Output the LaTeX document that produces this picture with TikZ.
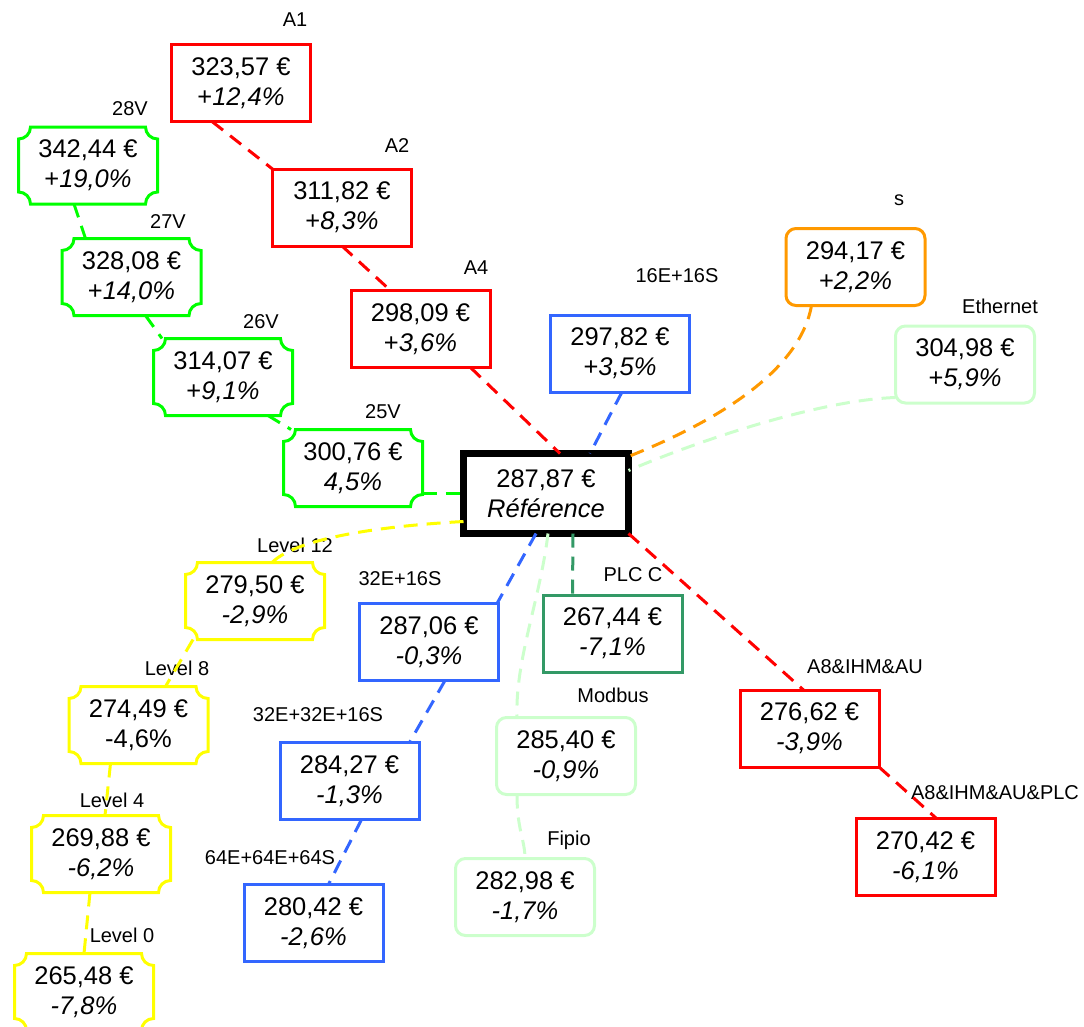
\documentclass[tikz,border=0pt]{standalone}
\usepackage{fontspec}
\setmainfont{Liberation Sans}
\usepackage{xcolor}
\usepackage{tikz}
\usetikzlibrary{calc}

\definecolor{linkblue}{HTML}{3366FF}
\definecolor{plcgreen}{HTML}{339966}
\definecolor{busgreen}{HTML}{CCFFCC}
\definecolor{vgreen}{HTML}{00FF00}
\definecolor{lvlyellow}{HTML}{FFFF00}
\definecolor{sorange}{HTML}{FF9900}

\begin{document}
\begin{tikzpicture}[
    x=1pt, y=1pt,
    price/.style={rectangle, draw=#1, line width=3pt, outer sep=0pt, inner sep=2pt, minimum width=139pt, minimum height=77pt, align=center, font=\fontsize{25.5}{30}\selectfont},
    soft/.style={price=#1, rounded corners=10pt},
    notched/.style={price=#1, draw=none, append after command={\pgfextra{
        \draw[#1, line width=3pt]
          ([xshift=12pt]\tikzlastnode.north west) -- ([xshift=-12pt]\tikzlastnode.north east)
          arc[start angle=180, end angle=270, radius=12pt]
          -- ([yshift=12pt]\tikzlastnode.south east)
          arc[start angle=90, end angle=180, radius=12pt]
          -- ([xshift=12pt]\tikzlastnode.south west)
          arc[start angle=0, end angle=90, radius=12pt]
          -- ([yshift=-12pt]\tikzlastnode.north west)
          arc[start angle=270, end angle=360, radius=12pt]
          -- cycle;}}},
    refbox/.style={rectangle, draw=black, line width=7pt, outer sep=0pt, minimum width=165pt, minimum height=80pt, align=center, font=\fontsize{25.5}{30}\selectfont},
    tag/.style={inner sep=0pt, font=\fontsize{20}{23}\selectfont},
    link/.style={draw=#1, line width=3pt, dash pattern=on 14pt off 9pt}
  ]
    \useasboundingbox (0,0) rectangle (1084,-1026);

    % Reference
    \node[refbox] (ref) at (546,-493.5) {287,87 €\\\textit{Référence}};

    % A options
    \node[price=red] (a1) at (241,-83) {323,57 €\\+\textit{12,4\%}};
    \node[tag] (a1-tag) at (295,-20) {A1};
    \node[price=red] (a2) at (342,-207.5) {311,82 €\\+\textit{8,3\%}};
    \node[tag] (a2-tag) at (397,-146) {A2};
    \node[price=red] (a4) at (420.5,-329) {298,09 €\\+\textit{3,6\%}};
    \node[tag] (a4-tag) at (476,-268) {A4};

    % Voltage
    \node[notched=vgreen] (v28) at (88,-165.5) {342,44 €\\+\textit{19,0\%}};
    \node[tag] (v28-tag) at (130,-109) {28V};
    \node[notched=vgreen] (v27) at (131.5,-277) {328,08 €\\+\textit{14,0\%}};
    \node[tag] (v27-tag) at (168,-222) {27V};
    \node[notched=vgreen] (v26) at (223,-377) {314,07 €\\+\textit{9,1\%}};
    \node[tag] (v26-tag) at (261,-322) {26V};
    \node[notched=vgreen] (v25) at (353,-468) {300,76 €\\\textit{4,5\%}};
    \node[tag] (v25-tag) at (383,-412) {25V};

    % Levels
    \node[notched=lvlyellow] (lvl-12) at (255,-601) {279,50 €\\\textit{-2,9\%}};
    \node[tag] (lvl-12-tag) at (295,-545) {Level 12};
    \node[notched=lvlyellow] (lvl-8) at (138.5,-725) {274,49 €\\-4,6\%};
    \node[tag] (lvl-8-tag) at (177,-668) {Level 8};
    \node[notched=lvlyellow] (lvl-4) at (101,-854) {269,88 €\\\textit{-6,2\%}};
    \node[tag] (lvl-4-tag) at (112,-800) {Level 4};
    \node[notched=lvlyellow] (lvl-0) at (84,-992) {265,48 €\\\textit{-7,8\%}};
    \node[tag] (lvl-0-tag) at (122,-935) {Level 0};

    % I/O
    \node[price=linkblue] (io-16) at (620,-353.5) {297,82 €\\+\textit{3,5\%}};
    \node[tag] (io-16-tag) at (677,-276) {16E+16S};
    \node[price=linkblue] (io-32) at (429,-642) {287,06 €\\\textit{-0,3\%}};
    \node[tag] (io-32-tag) at (400,-579) {32E+16S};
    \node[price=linkblue] (io-48) at (349.5,-781) {284,27 €\\\textit{-1,3\%}};
    \node[tag] (io-48-tag) at (318,-715) {32E+32E+16S};
    \node[price=linkblue] (io-192) at (313.5,-923) {280,42 €\\\textit{-2,6\%}};
    \node[tag] (io-192-tag) at (270,-858) {64E+64E+64S};

    % Communication
    \node[soft=sorange] (s) at (855.5,-267) {294,17 €\\+\textit{2,2\%}};
    \node[tag] (s-tag) at (899,-200) {s};
    \node[soft=busgreen] (eth) at (965,-364.5) {304,98 €\\+\textit{5,9\%}};
    \node[tag] (eth-tag) at (1000,-306) {Ethernet};
    \node[soft=busgreen] (modbus) at (566,-756) {285,40 €\\\textit{-0,9\%}};
    \node[tag] (modbus-tag) at (613,-695) {Modbus};
    \node[soft=busgreen] (fipio) at (525,-897) {282,98 €\\\textit{-1,7\%}};
    \node[tag] (fipio-tag) at (569,-840) {Fipio};

    % PLC and HMI
    \node[price=plcgreen] (plc-c) at (612.5,-633.5) {267,44 €\\\textit{-7,1\%}};
    \node[tag] (plc-c-tag) at (633,-575) {PLC C};
    \node[price=red] (a8) at (809.5,-728.5) {276,62 €\\\textit{-3,9\%}};
    \node[tag] (a8-tag) at (865,-667) {A8\&IHM\&AU};
    \node[price=red] (a8-plc) at (925.5,-857) {270,42 €\\\textit{-6,1\%}};
    \node[tag] (a8-plc-tag) at (995,-793) {A8\&IHM\&AU\&PLC};

    % Links - A chain
    \draw[link=red] ([xshift=-29pt]a1.south) -- (a2.north west);
    \draw[link=red] (a2.south) -- ([xshift=-30pt]a4.north);
    \draw[link=red] ([xshift=50pt]a4.south) -- ([xshift=14pt]ref.north);

    % Links - voltage chain
    \draw[link=vgreen] ([xshift=-14pt]v28.south) -- ([xshift=-46pt]v27.north);
    \draw[link=vgreen] ([xshift=14pt]v27.south) -- ([xshift=-61pt]v26.north);
    \draw[link=vgreen] ([xshift=45pt]v26.south) -- ([xshift=-62pt]v25.north);
    \draw[link=vgreen] (v25.east |- ref.west) -- (ref.west);

    % Links - levels
    \draw[link=lvlyellow] ([yshift=-28pt]ref.west) .. controls (400,-525) and (300,-535) .. ([xshift=17pt]lvl-12.north);
    \draw[link=lvlyellow] ([xshift=-62pt]lvl-12.south) -- ([xshift=27pt]lvl-8.north);
    \draw[link=lvlyellow] ([xshift=-28pt]lvl-8.south) -- ([xshift=4pt]lvl-4.north);
    \draw[link=lvlyellow] ([xshift=-11pt]lvl-4.south) -- (lvl-0.north);

    % Links - I/O
    \draw[link=linkblue] ([xshift=2pt]io-16.south) -- ([xshift=44pt]ref.north);
    \draw[link=linkblue] ([xshift=-10pt]ref.south) -- ([xshift=68pt]io-32.north);
    \draw[link=linkblue] ([xshift=16pt]io-32.south) -- ([xshift=60pt]io-48.north);
    \draw[link=linkblue] ([xshift=12pt]io-48.south) -- ([xshift=15pt]io-192.north);

    % Links - communication
    \draw[link=sorange] ([xshift=-44pt]s.south) .. controls (800,-370) and (720,-420) .. ([yshift=37pt]ref.east);
    \draw[link=busgreen] ([yshift=-33pt]eth.west) .. controls (820,-400) and (700,-440) .. ([yshift=23pt]ref.east);
    \draw[link=busgreen] ([xshift=2pt]ref.south) .. controls (540,-600) and (515,-660) .. ([xshift=-49pt]modbus.north);
    \draw[link=busgreen] ([xshift=-49pt]modbus.south) .. controls (517,-830) and (525,-840) .. (fipio.north);

    % Links - PLC and HMI
    \draw[link=plcgreen] ([xshift=27pt]ref.south) -- ([xshift=-40pt]plc-c.north);
    \draw[link=red] (ref.south east) -- ([xshift=-6pt]a8.north);
    \draw[link=red] (a8.south east) -- ([xshift=11pt]a8-plc.north);

  \end{tikzpicture}
\end{document}
